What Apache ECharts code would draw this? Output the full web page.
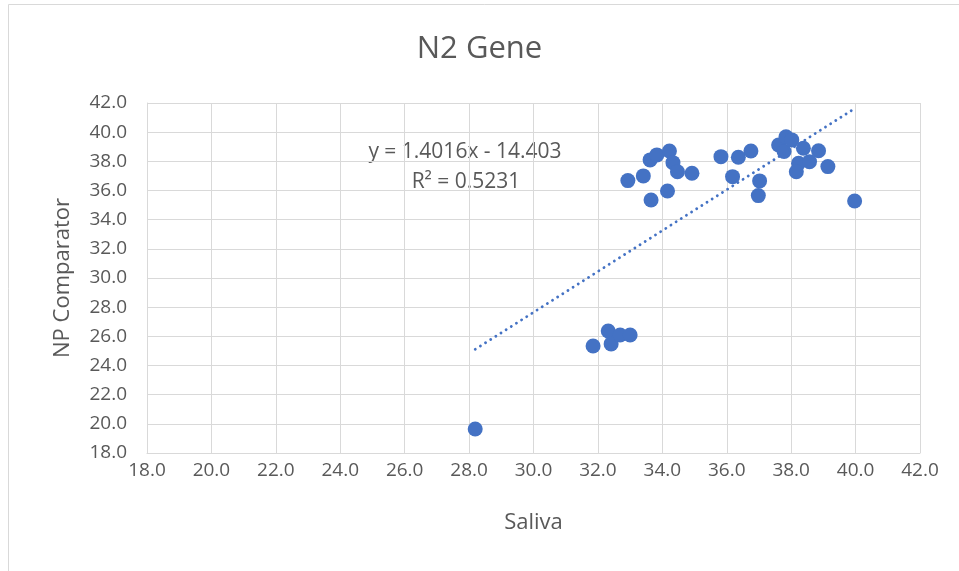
<!DOCTYPE html>
<html>
<head>
<meta charset="utf-8">
<title>N2 Gene</title>
<script src="https://cdn.jsdelivr.net/npm/echarts@6/dist/echarts.min.js"></script>
<style>
  html, body { margin: 0; padding: 0; background: #fff; }
  #chart { width: 959px; height: 571px; }
</style>
</head>
<body>
<div id="chart"></div>
<script>
// values
const saliva = [
  28.19, 31.85, 32.32, 32.41, 32.69, 33.00, 32.93, 33.41, 33.62, 33.83, 34.22,
  34.33, 34.47, 34.92, 33.65, 34.16, 35.82, 36.36, 36.75, 36.18, 37.02, 36.98,
  37.61, 37.78, 37.84, 38.02, 38.38, 38.85, 38.23, 38.16, 38.57, 39.14, 39.97
];
const npComparator = [
  19.65, 25.34, 26.37, 25.48, 26.09, 26.09, 36.68, 37.00, 38.10, 38.44, 38.71,
  37.91, 37.29, 37.18, 35.35, 35.97, 38.32, 38.28, 38.71, 36.95, 36.66, 35.65,
  39.12, 38.67, 39.69, 39.47, 38.90, 38.73, 37.87, 37.29, 37.98, 37.64, 35.28
];
const axisTicks = [18, 20, 22, 24, 26, 28, 30, 32, 34, 36, 38, 40, 42];

// linear trendline as printed on the chart
const trendSlope = 1.4016;
const trendIntercept = -14.403;
const trendLabel = ['y = 1.4016x - 14.403', 'R\u00b2 = 0.5231'];

const points = saliva.map((x, i) => [x, npComparator[i]]);
const xLo = Math.min(...saliva);
const xHi = Math.max(...saliva);
const trend = [xLo, xHi].map(x => [x, trendSlope * x + trendIntercept]);

const font = 'Open Sans';
const txt = '#595959';
const gridColor = '#d9d9d9';

let myChart = echarts.init(document.getElementById('chart'));

const axisCommon = {
  type: 'value',
  min: axisTicks[0],
  max: axisTicks[axisTicks.length - 1],
  interval: 2,
  nameLocation: 'middle',
  nameTextStyle: {color: txt, fontFamily: font, fontSize: 22},
  axisLine: {show: true, lineStyle: {color: gridColor, width: 1}},
  axisTick: {show: false},
  splitLine: {show: true, lineStyle: {color: gridColor, width: 1}},
  axisLabel: {
    color: txt,
    fontFamily: font,
    fontSize: 19,
    formatter: v => v.toFixed(1)
  }
};

let option = {
  animation: false,
  backgroundColor: '#fff',
  title: {
    text: 'N2 Gene',
    left: 'center',
    top: 29,
    textStyle: {color: txt, fontFamily: font, fontSize: 31, fontWeight: 'normal'}
  },
  grid: {left: 147, right: 39, top: 103, bottom: 118},
  xAxis: Object.assign({}, axisCommon, {
    name: 'Saliva',
    nameGap: 59,
    axisLabel: Object.assign({}, axisCommon.axisLabel, {margin: 8})
  }),
  yAxis: Object.assign({}, axisCommon, {
    name: 'NP Comparator',
    nameGap: 73,
    axisLabel: Object.assign({}, axisCommon.axisLabel, {margin: 20})
  }),
  graphic: [
    {
      type: 'rect',
      silent: true,
      shape: {x: 8.5, y: 4.5, width: 1000, height: 1000},
      style: {fill: 'none', stroke: gridColor, lineWidth: 1}
    },
    {
      type: 'text',
      x: 465, y: 152,
      style: {
        text: trendLabel[0], fill: txt, font: '21px "Open Sans"',
        textAlign: 'center', textVerticalAlign: 'middle'
      }
    },
    {
      type: 'text',
      x: 466, y: 182,
      style: {
        text: trendLabel[1], fill: txt, font: '21px "Open Sans"',
        textAlign: 'center', textVerticalAlign: 'middle'
      }
    }
  ],
  series: [
    {
      name: 'trend',
      type: 'line',
      data: trend,
      symbol: 'none',
      silent: true,
      z: 3,
      lineStyle: {color: '#4472C4', width: 2.8, type: [0.1, 6], cap: 'round'}
    },
    {
      name: 'N2',
      type: 'scatter',
      data: points,
      symbolSize: 15,
      z: 2,
      itemStyle: {color: '#4472C4', opacity: 1}
    }
  ]
};
myChart.setOption(option);
</script>
</body>
</html>
